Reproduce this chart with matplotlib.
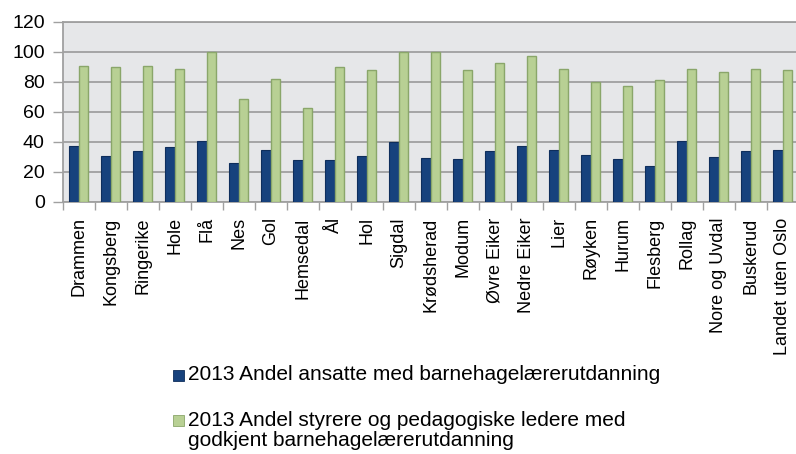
import matplotlib
matplotlib.use("Agg")
import matplotlib.pyplot as plt
from matplotlib.patches import Rectangle
import numpy as np

plt.rcParams['font.family'] = ['Liberation Sans', 'DejaVu Sans']

# --- data ---
kommuner = ["Drammen", "Kongsberg", "Ringerike", "Hole", "Flå", "Nes", "Gol",
            "Hemsedal", "Ål", "Hol", "Sigdal", "Krødsherad", "Modum", "Øvre Eiker",
            "Nedre Eiker", "Lier", "Røyken", "Hurum", "Flesberg", "Rollag",
            "Nore og Uvdal", "Buskerud", "Landet uten Oslo"]
ansatte = [37.6, 31, 34, 37, 40.5, 26, 34.7, 28, 28, 31, 40, 29.6, 28.8, 34,
           37.6, 34.7, 31.6, 28.8, 24.3, 40.5, 30.3, 34, 34.7]
styrere = [90.5, 89.8, 90.5, 89, 100, 68.4, 82.3, 62.6, 89.8, 88.3, 100, 100,
           88.3, 92.9, 97.1, 89, 80, 77.2, 81.6, 89, 87, 89, 88.3]
series_labels = ["2013 Andel ansatte med barnehagelærerutdanning",
                 "2013 Andel styrere og pedagogiske ledere med\ngodkjent barnehagelærerutdanning"]

# colours
c_blue, c_blue_edge = "#17427D", "#0E2E5C"
c_green, c_green_edge = "#B8D094", "#8AA66A"
c_grid = "#A0A0A0"

fig = plt.figure(figsize=(7.96, 4.54), dpi=100)
W, H = 796, 454
ax = fig.add_axes([62.7 / W, (H - 202) / H, 736 / W, 180 / H])
ax.set_facecolor("#E6E7E9")

x = np.arange(len(kommuner))
bw = 0.29
ax.bar(x - bw / 2, ansatte, bw, color=c_blue, edgecolor=c_blue_edge, linewidth=0.8, zorder=3)
ax.bar(x + bw / 2, styrere, bw, color=c_green, edgecolor=c_green_edge, linewidth=1.0, zorder=3)

ax.set_xlim(-0.5, len(kommuner) - 0.5)
ax.set_ylim(0, 120)
ax.set_yticks(range(0, 121, 20))
ax.yaxis.grid(True, color=c_grid, linewidth=1.3, zorder=0)
ax.set_axisbelow(True)

# category boundaries get tick marks, labels sit at centres
ax.set_xticks(np.arange(-0.5, len(kommuner), 1.0))
ax.set_xticklabels([])
ax.set_xticks(x, minor=True)
ax.set_xticklabels(kommuner, minor=True, rotation=90, fontsize=13)
ax.tick_params(axis='x', which='major', length=6, color=c_grid, width=1)
ax.tick_params(axis='x', which='minor', length=0, pad=11)
ax.tick_params(axis='y', length=7, color=c_grid, width=1, labelsize=14, pad=6)

ax.spines["right"].set_visible(False)
for s in ["left", "bottom", "top"]:
    ax.spines[s].set_color(c_grid)
    ax.spines[s].set_linewidth(1.3)

# --- legend below chart ---
leg_rows = [375, 420]
for lbl, col, ec, yc in zip(series_labels, [c_blue, c_green], [c_blue_edge, c_green_edge], leg_rows):
    fig.patches.append(Rectangle((173 / W, (H - yc - 5.5) / H), 11 / W, 11 / H,
                                 facecolor=col, edgecolor=ec, linewidth=0.6,
                                 transform=fig.transFigure, figure=fig))
    fig.text(188 / W, (H - yc + 9.5) / H, lbl, fontsize=15, va="top", ha="left",
             linespacing=1.1)

fig.savefig("out.png", dpi=100)
